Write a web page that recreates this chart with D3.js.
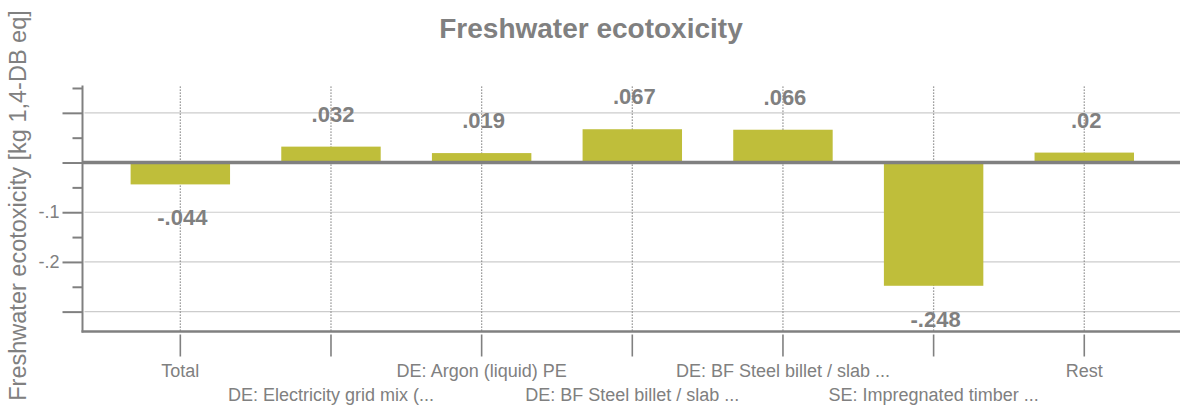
<!DOCTYPE html>
<html>
<head>
<meta charset="utf-8">
<script src="https://cdn.jsdelivr.net/npm/d3@7"></script>
<style>
  html, body { margin: 0; padding: 0; background: #fff; }
  svg { display: block; font-family: "Liberation Sans", Arial, sans-serif; }
</style>
</head>
<body>
<svg id="chart" width="1180" height="408"></svg>
<script>
// ---- data ----
const categories = [
  "Total",
  "DE: Electricity grid mix (...",
  "DE: Argon (liquid) PE",
  "DE: BF Steel billet / slab ...",
  "DE: BF Steel billet / slab ...",
  "SE: Impregnated timber ...",
  "Rest"
];
const values = [-0.044, 0.032, 0.019, 0.067, 0.066, -0.248, 0.02];
const majorTicks = [0.1, 0, -0.1, -0.2, -0.3];
const minorTicks = [0.15, 0.05, -0.05, -0.15, -0.25];
const labeledTicks = [-0.1, -0.2];
const gridTicks = [0.1, -0.1, -0.2, -0.3];
const yDomain = [-0.34, 0.155];
const title = "Freshwater ecotoxicity";
const yTitle = "Freshwater ecotoxicity [kg 1,4-DB eq]";

// ---- layout ----
const W = 1180, H = 408;
const axisX = 82.5, plotRight = 1180, plotTop = 85.5, plotBottom = 331.5;
const gray = "#808080";
const barColor = "#bfbe3a";

const svg = d3.select("#chart");
const idx = d3.range(categories.length);

const x = d3.scaleBand().domain(idx).range([105, 1159.6])
  .paddingInner(0.34).paddingOuter(0.17);
const y = d3.scaleLinear().domain(yDomain).range([plotBottom, plotTop]);

const fmt = v => (v < 0 ? "-" : "") + d3.format(".3~f")(Math.abs(v)).replace(/^0\./, ".");

// title
svg.append("text")
  .attr("x", W / 2 + 1).attr("y", 38)
  .attr("text-anchor", "middle")
  .attr("font-size", 28).attr("font-weight", "bold")
  .attr("fill", gray)
  .text(title);

// y title
svg.append("text")
  .attr("transform", `translate(26,${(plotTop + plotBottom) / 2 - 3}) rotate(-90)`)
  .attr("text-anchor", "middle")
  .attr("font-size", 23.5)
  .attr("fill", gray)
  .text(yTitle);

// gridlines
svg.append("g").selectAll("line").data(gridTicks).join("line")
  .attr("x1", axisX + 2).attr("x2", plotRight)
  .attr("y1", d => y(d)).attr("y2", d => y(d))
  .attr("stroke", "#cccccc").attr("stroke-width", 1.2);

// dotted category lines
svg.append("g").selectAll("line").data(idx).join("line")
  .attr("x1", d => x(d) + x.bandwidth() / 2).attr("x2", d => x(d) + x.bandwidth() / 2)
  .attr("y1", plotTop + 1).attr("y2", plotBottom)
  .attr("stroke", gray).attr("stroke-width", 1.3)
  .attr("stroke-dasharray", "1.3,1.7");

// bars
svg.append("g").selectAll("rect").data(idx).join("rect")
  .attr("x", d => x(d))
  .attr("width", x.bandwidth())
  .attr("y", d => y(Math.max(0, values[d])))
  .attr("height", d => Math.abs(y(values[d]) - y(0)))
  .attr("fill", barColor);

// zero line
svg.append("line")
  .attr("x1", axisX).attr("x2", plotRight)
  .attr("y1", y(0)).attr("y2", y(0))
  .attr("stroke", gray).attr("stroke-width", 3.5);

// y axis (major)
const yAxisMajor = d3.axisLeft(y).tickValues(majorTicks).tickSize(20)
  .tickFormat(d => labeledTicks.includes(d) ? fmt(d) : "");
const gY = svg.append("g").attr("transform", `translate(${axisX},0)`).call(yAxisMajor);
gY.select(".domain").remove();
gY.selectAll(".tick line").attr("stroke", gray).attr("stroke-width", 2);
gY.selectAll(".tick text").attr("fill", gray).attr("font-size", 18)
  .attr("font-family", "Liberation Sans, Arial, sans-serif").attr("x", -23);

// y axis (minor)
const gYm = svg.append("g").attr("transform", `translate(${axisX},0)`)
  .call(d3.axisLeft(y).tickValues(minorTicks).tickSize(10).tickFormat(""));
gYm.select(".domain").remove();
gYm.selectAll(".tick line").attr("stroke", gray).attr("stroke-width", 2);

// y axis line
svg.append("line")
  .attr("x1", axisX).attr("x2", axisX)
  .attr("y1", plotTop).attr("y2", plotBottom + 1)
  .attr("stroke", gray).attr("stroke-width", 2);

// x axis line
svg.append("line")
  .attr("x1", axisX - 1).attr("x2", plotRight)
  .attr("y1", plotBottom).attr("y2", plotBottom)
  .attr("stroke", gray).attr("stroke-width", 2.5);

// x axis ticks + staggered labels
const gX = svg.append("g").attr("transform", `translate(0,${plotBottom + 3})`)
  .call(d3.axisBottom(x).tickSize(22).tickFormat(d => categories[d]));
gX.select(".domain").remove();
gX.selectAll(".tick line").attr("stroke", gray).attr("stroke-width", 1.6);
gX.selectAll(".tick text")
  .attr("fill", gray).attr("font-size", 18)
  .attr("font-family", "Liberation Sans, Arial, sans-serif")
  .attr("dy", null)
  .attr("y", d => d % 2 === 0 ? 42 : 66);

// value labels
svg.append("g").selectAll("text").data(idx).join("text")
  .attr("x", d => x(d) + x.bandwidth() / 2 + 2)
  .attr("y", d => values[d] >= 0 ? y(values[d]) - 25 : y(values[d]) + 41)
  .attr("text-anchor", "middle")
  .attr("font-size", 22).attr("font-weight", "bold")
  .attr("fill", gray)
  .text(d => fmt(values[d]));
</script>
</body>
</html>
